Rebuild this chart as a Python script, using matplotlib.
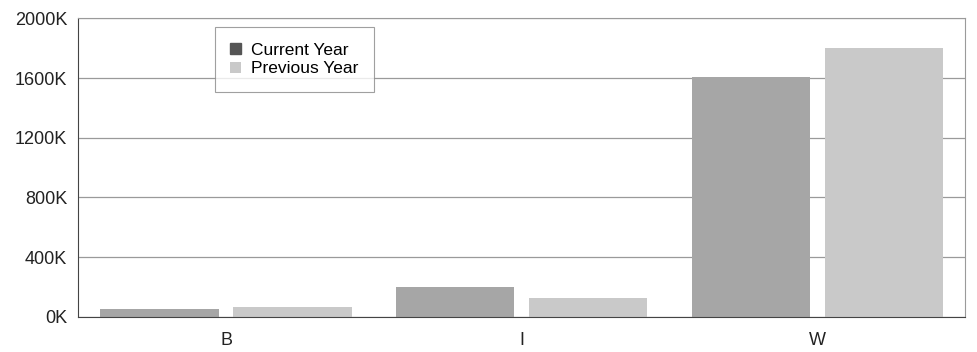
import numpy as np
from matplotlib import pyplot as plt
from matplotlib.ticker import FuncFormatter

categories = ["B", "I", "W"]
current_year = [52, 200, 1610]
previous_year = [68, 125, 1800]

plt.rcParams['font.family'] = ['Liberation Sans', 'DejaVu Sans']

fig = plt.figure(figsize=(9.77, 3.52), dpi=100)
ax = fig.add_axes([0.080, 0.100, 0.908, 0.848])

x = np.arange(len(categories))
width = 0.40
ax.bar(x - 0.225, current_year, width, color='#a6a6a6', label='Current Year', zorder=2)
ax.bar(x + 0.225, previous_year, width, color='#c9c9c9', label='Previous Year', zorder=2)

ax.set_xlim(-0.5, 2.5)
ax.set_ylim(0, 2000)
ax.set_yticks(range(0, 2001, 400))
ax.yaxis.set_major_formatter(FuncFormatter(lambda v, p: f"{int(v)}K"))
ax.set_xticks(x)
ax.set_xticklabels(categories)
ax.tick_params(axis='both', length=0, labelsize=13, colors='#222222')
ax.tick_params(axis='x', pad=11)
ax.tick_params(axis='y', pad=8)

ax.grid(axis='y', color='#9a9a9a', linewidth=0.9, zorder=0)
for side in ['top', 'right']:
    ax.spines[side].set_color('#9a9a9a')
for side in ['left', 'bottom']:
    ax.spines[side].set_color('#444444')

leg = ax.legend(loc='upper left', bbox_to_anchor=(0.154, 0.97), frameon=True, fancybox=False,
                edgecolor='#888888', fontsize=12.5, handlelength=0.6, handleheight=0.6,
                handletextpad=0.6, borderpad=0.9, labelspacing=0.2, borderaxespad=0)
leg.legend_handles[0].set_color('#555555')
leg.get_frame().set_linewidth(0.8)

fig.savefig("out.png", dpi=100)
